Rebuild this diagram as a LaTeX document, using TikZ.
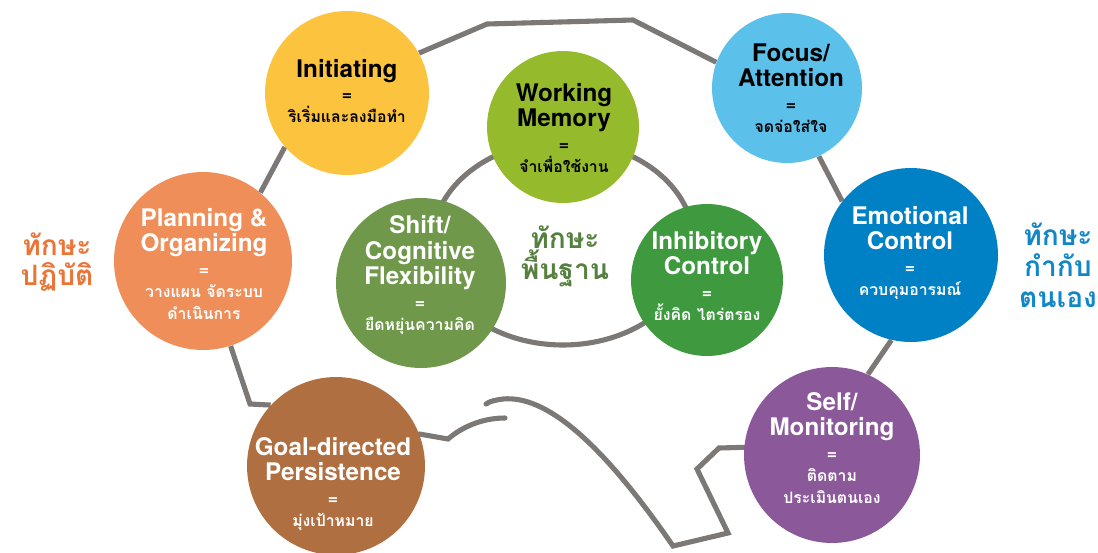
\documentclass[tikz,border=0pt]{standalone}
\usepackage{fontspec}
\setmainfont{TeX Gyre Heros}
\newfontfamily\thaifont[Script=Thai]{Loma}
\usetikzlibrary{backgrounds}

\definecolor{initc}{HTML}{FCC33F}
\definecolor{wmc}{HTML}{95BA2B}
\definecolor{focusc}{HTML}{5BC1EB}
\definecolor{emoc}{HTML}{0081C5}
\definecolor{selfc}{HTML}{8B5899}
\definecolor{goalc}{HTML}{B06F41}
\definecolor{planc}{HTML}{EF8E58}
\definecolor{shiftc}{HTML}{6F984A}
\definecolor{inhibc}{HTML}{3F993E}
\definecolor{linkc}{HTML}{7B7875}
\definecolor{actc}{HTML}{EB7437}
\definecolor{basec}{HTML}{55803F}
\definecolor{regc}{HTML}{1287C8}

\newcommand{\titlefont}{\fontsize{13.8}{14.3}\selectfont\bfseries}
\newcommand{\eqsign}{{\fontsize{10}{10}\selectfont =}}
\newcommand{\thaisub}{\thaifont\bfseries\fontsize{9}{13}\selectfont}
\newcommand{\thaihead}{\thaifont\bfseries\fontsize{16}{17.5}\selectfont}

\begin{document}
\begin{tikzpicture}[x=0.02cm, y=-0.02cm,
        bubble/.style={circle, inner sep=0pt},
        skilltext/.style={align=center, inner sep=0pt, font=\titlefont},
        sidelabel/.style={align=center, inner sep=0pt, font=\thaihead},
        linkline/.style={draw=linkc, line width=2.9pt}]
    \useasboundingbox (0, 0) rectangle (1098, 552);
    \node [bubble, fill=initc, minimum size=3.28cm] (init) at (347, 93) {};
    \node [bubble, fill=wmc, minimum size=3.04cm] (wm) at (563, 127) {};
    \node [bubble, fill=focusc, minimum size=3.0cm] (focus) at (787, 88) {};
    \node [bubble, fill=emoc, minimum size=3.48cm] (emo) at (911, 255) {};
    \node [bubble, fill=selfc, minimum size=3.52cm] (self) at (832, 455) {};
    \node [bubble, fill=goalc, minimum size=3.56cm] (goal) at (336, 466) {};
    \node [bubble, fill=planc, minimum size=3.56cm] (plan) at (203, 261) {};
    \node [bubble, fill=shiftc, minimum size=3.40cm] (shift) at (421, 283) {};
    \node [bubble, fill=inhibc, minimum size=3.04cm] (inhib) at (707, 280) {};
    \node [skilltext] (inittext) at (347, 91) {Initiating\\[-0.7pt]\eqsign\\[-1.8pt]{\thaisub ริเริ่มและลงมือทำ}};
    \node [skilltext] (wmtext) at (564, 128) {Working\\Memory\\[-0.7pt]\eqsign\\[-1.8pt]{\thaisub จำเพื่อใช้งาน}};
    \node [skilltext] (focustext) at (791, 88) {Focus/\\Attention\\[-0.7pt]\eqsign\\[-1.8pt]{\thaisub จดจ่อใส่ใจ}};
    \node [skilltext, white] (emotext) at (910, 253) {Emotional\\Control\\[-0.7pt]\eqsign\\[-1.8pt]{\thaisub ควบคุมอารมณ์}};
    \node [skilltext, white] (selftext) at (832, 448) {Self/\\Monitoring\\[-0.7pt]\eqsign\\[-1.8pt]{\thaisub ติดตาม}\\[-1.3pt]{\thaisub ประเมินตนเอง}};
    \node [skilltext, white] (goaltext) at (333, 484) {Goal-directed\\Persistence\\[-0.7pt]\eqsign\\[-1.8pt]{\thaisub มุ่งเป้าหมาย}};
    \node [skilltext, white] (plantext) at (204, 264) {Planning \&\\Organizing\\[-0.7pt]\eqsign\\[-1.8pt]{\thaisub วางแผน จัดระบบ}\\[-1.3pt]{\thaisub ดำเนินการ}};
    \node [skilltext, white] (shifttext) at (420, 275) {Shift/\\Cognitive\\Flexibility\\[-0.7pt]\eqsign\\[-1.8pt]{\thaisub ยืดหยุ่นความคิด}};
    \node [skilltext, white] (inhibtext) at (707, 276) {Inhibitory\\Control\\[-0.7pt]\eqsign\\[-1.8pt]{\thaisub ยั้งคิด ไตร่ตรอง}};
    \node [sidelabel, actc] (actlabel) at (57, 262) {ทักษะ\\ปฏิบัติ};
    \node [sidelabel, basec] (baselabel) at (565, 256) {ทักษะ\\พื้นฐาน};
    \node [sidelabel, regc] (reglabel) at (1058, 265) {ทักษะ\\กำกับ\\ตนเอง};
    \coordinate (tl) at (487, 24);
    \coordinate (tr) at (633, 20);
    \coordinate (sb1) at (719, 448);
    \coordinate (sb2) at (697, 469);
    \coordinate (sb3) at (728, 533);
    \coordinate (sb4) at (673, 546);
    \coordinate (hooktop) at (503, 399);
    \coordinate (hookend) at (486, 404);
    \coordinate (gb) at (448, 439);
    \coordinate (gend) at (505, 418);
    \coordinate (pb) at (250, 404);
    \begin{scope}[on background layer]
        \draw [linkline] (563, 243) ellipse [x radius=2.62cm, y radius=2.04cm];
        \draw [linkline] (init.29) -- (tl) -- (tr) -- (focus.160);
        \draw [linkline] (focus.295) -- (emo.142);
        \draw [linkline] (emo.257) -- (self.66);
        \draw [linkline] [line cap=round] (self.175) -- (sb1) -- (sb2) -- (sb3) -- (sb4) .. controls (600, 440) and (545, 395) .. (hooktop) .. controls (496, 400) and (490, 401) .. (hookend);
        \draw [linkline] [line cap=round] (goal.21) -- (gb) .. controls (462, 427) and (482, 418) .. (gend);
        \draw [linkline] (plan.288) -- (pb) -- (goal.137);
        \draw [linkline] (plan.50) -- (init.221);
    \end{scope}
\end{tikzpicture}
\end{document}
